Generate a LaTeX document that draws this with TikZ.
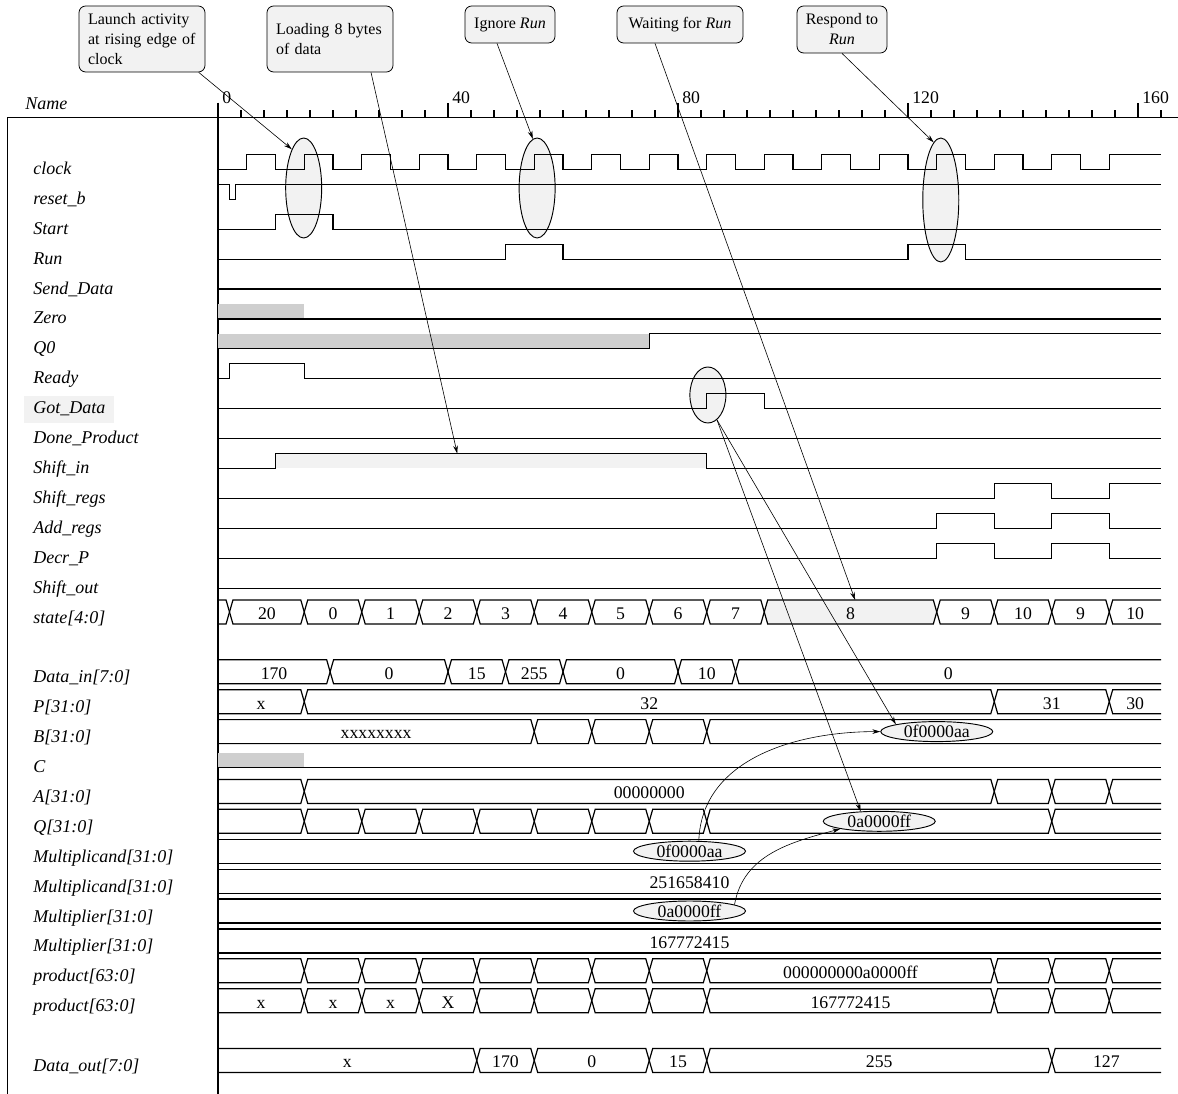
\documentclass[tikz,border=0pt]{standalone}
\usepackage{fontspec}
\setmainfont{Liberation Serif}
\usetikzlibrary{shapes.geometric,arrows.meta}

\def\tend{164}
% one bus value from #2 to #3 (crossing at both ends)
\newcommand{\busseg}[4][]{%
  \pgfmathsetmacro{\segdl}{ifthenelse(#2==0,0,0.6)}
  \draw[sig,#1] ({#2},-3) -- ({#2+\segdl},-15) -- ({#3-0.6},-15) -- ({#3},-3)
    -- ({#3-0.6},9) -- ({#2+\segdl},9) -- cycle;
  \node[val] at ({(#2+#3)/2},4.3) {#4};}
% last bus value, open to the right
\newcommand{\busend}[2]{%
  \pgfmathsetmacro{\segdl}{ifthenelse(#1==0,0,0.6)}
  \draw[sig] (\tend,-15) -- ({#1+\segdl},-15) -- ({#1},-3) -- ({#1+\segdl},9) -- (\tend,9);
  \node[val] at ({(#1+\tend)/2},4.3) {#2};}

\begin{document}
\begin{tikzpicture}[x=0.75pt, y=-0.75pt, >={Stealth[length=6pt,width=3.5pt]},
  sig/.style={line width=0.9pt},
  sigrow/.style={shift={(0,{166.5+29.9*#1})}},
  lab/.style={anchor=base west, inner sep=0, font=\fontsize{13.5}{16}\selectfont\itshape},
  val/.style={anchor=base, inner sep=0, font=\fontsize{13.3}{16}\selectfont},
  hilite/.style={ellipse, draw, fill=gray!10, line width=0.7pt, minimum width=27pt, inner sep=0},
  bubble/.style={ellipse, draw, fill=gray!10, line width=0.7pt, minimum width=84pt,
    minimum height=15pt, inner sep=0, font=\fontsize{13.3}{16}\selectfont},
  notebox/.style={draw, fill=gray!10, rounded corners=5pt, line width=0.6pt, inner sep=0,
    font=\fontsize{12}{15}\selectfont},
  hatch/.style={fill=gray!38},
  ann/.style={->, line width=0.45pt}]
  \useasboundingbox (0,0) rectangle (1178,1094);

  % Frame
  \draw[sig] (7.3,1094) -- (7.3,117.7) -- (1178,117.7);
  \draw[sig] (218,102.7) -- (218,1094);
  \node[lab] (hdr) at (25,110) {Name};

  % Signal names
  \foreach \rw/\name in {0/clock,1/reset\_b,2/Start,3/Run,4/Send\_Data,5/Zero,6/Q0,7/Ready,
      9/Done\_Product,10/Shift\_in,11/Shift\_regs,12/Add\_regs,13/Decr\_P,14/Shift\_out,
      15/state[4:0],17/Data\_in[7:0],18/P[31:0],19/B[31:0],20/C,21/A[31:0],22/Q[31:0],
      23/Multiplicand[31:0],24/Multiplicand[31:0],25/Multiplier[31:0],26/Multiplier[31:0],
      27/product[63:0],28/product[63:0],30/Data\_out[7:0]}
    \node[lab] (name\rw) at (33,{174.5+29.9*\rw}) {\name};
  \node[lab, fill=gray!10, inner xsep=6.6pt, inner ysep=2pt, text height=11.5pt,
    text depth=4.75pt] (name8) at (24.2,{174.5+29.9*8}) {Got\_Data};

  \begin{scope}[xshift=163.5pt, x=4.3125pt]
    % Time axis
    \foreach \tc in {0,4,...,164}
      \draw[sig] (\tc,117.7) -- (\tc,110);
    \foreach \tc in {0,40,...,160} {
      \draw[sig] (\tc,117.7) -- (\tc,102.7);
      \node[val, anchor=base west] (tick\tc) at ({\tc+0.7},104) {\tc};
    }

    % Highlights (behind the traces)
    \node[hilite, minimum height=75pt] (clkedge) at (14.9,188) {};
    \node[hilite, minimum height=75pt] (runedge) at (55.5,188) {};
    \node[hilite, minimum height=93pt] (respedge) at (125.7,200) {};
    \node[hilite, minimum height=42pt] (gotedge) at (85.2,395) {};

    % Control signals
    \draw[sig, sigrow=0] (0,3) \foreach \tc in {5,15,...,145} { -| (\tc,-12) -| ({\tc+5},3) }
      -| (155,-12) -- (\tend,-12);
    \draw[sig, sigrow=1] (0,-12) -| (2,3) -| (3,-12) -- (\tend,-12);
    \draw[sig, sigrow=2] (0,3) -| (10,-12) -| (20,3) -- (\tend,3);
    \draw[sig, sigrow=3] (0,3) -| (50,-12) -| (60,3) -| (120,-12) -| (130,3) -- (\tend,3);
    \draw[sig, sigrow=4] (0,3) -- (\tend,3);
    \fill[hatch, sigrow=5] (0,-12) rectangle (15,3);
    \draw[sig, sigrow=5] (0,3) -- (\tend,3);
    \fill[hatch, sigrow=6] (0,-12) rectangle (75,3);
    \draw[sig, sigrow=6] (0,3) -| (75,-12) -- (\tend,-12);
    \draw[sig, sigrow=7] (0,3) -| (2,-12) -| (15,3) -- (\tend,3);
    \draw[sig, sigrow=8] (0,3) -| (85,-12) -| (95,3) -- (\tend,3);
    \draw[sig, sigrow=9] (0,3) -- (\tend,3);
    \fill[gray!10, sigrow=10] (10,-12) rectangle (85,3);
    \draw[sig, sigrow=10] (0,3) -| (10,-12) -| (85,3) -- (\tend,3);
    \coordinate[sigrow=10] (sinpt) at (41.6,-12);
    \draw[sig, sigrow=11] (0,3) -| (135,-12) -| (145,3) -| (155,-12) -- (\tend,-12);
    \foreach \rw in {12,13}
      \draw[sig, sigrow=\rw] (0,3) -| (125,-12) -| (135,3) -| (145,-12) -| (155,3) -- (\tend,3);
    \draw[sig, sigrow=14] (0,3) -- (\tend,3);

    % state[4:0]
    \begin{scope}[sigrow=15]
      \busseg{0}{2}{}
      \busseg{2}{15}{20}
      \foreach \ta/\v in {15/0,25/1,35/2,45/3,55/4,65/5,75/6,85/7} {\busseg{\ta}{\ta+10}{\v}}
      \busseg[fill=gray!10]{95}{125}{8}
      \busseg{125}{135}{9}
      \busseg{135}{145}{10}
      \busseg{145}{155}{9}
      \busend{155}{10}
      \coordinate (st8) at (110.8,-15);
    \end{scope}

    % Data path
    \begin{scope}[sigrow=17]
      \busseg{0}{19.5}{170} \busseg{19.5}{40}{0} \busseg{40}{50}{15} \busseg{50}{60}{255}
      \busseg{60}{80}{0} \busseg{80}{90}{10} \busend{90}{0}
    \end{scope}
    \begin{scope}[sigrow=18]
      \busseg{0}{15}{x} \busseg{15}{135}{32} \busseg{135}{155}{31} \busend{155}{30}
    \end{scope}
    \begin{scope}[sigrow=19]
      \busseg{0}{55}{xxxxxxxx} \busseg{55}{65}{} \busseg{65}{75}{} \busseg{75}{85}{}
      \busend{85}{}
      \node[bubble] (bbub) at (125,-3) {0f0000aa};
    \end{scope}
    \fill[hatch, sigrow=20] (0,-12) rectangle (15,3);
    \draw[sig, sigrow=20] (0,3) -- (\tend,3);
    \begin{scope}[sigrow=21]
      \busseg{0}{15}{} \busseg{15}{135}{00000000} \busseg{135}{145}{} \busseg{145}{155}{}
      \busend{155}{}
    \end{scope}
    \begin{scope}[sigrow=22]
      \busseg{0}{15}{}
      \foreach \ta in {15,25,...,75} {\busseg{\ta}{\ta+10}{}}
      \busseg{85}{145}{} \busend{145}{}
      \node[bubble] (qbub) at (115,-3) {0a0000ff};
    \end{scope}
    \begin{scope}[sigrow=23]
      \busend{0}{}
      \node[bubble] (mcbub) at (82,-3) {0f0000aa};
    \end{scope}
    \begin{scope}[sigrow=24]
      \busend{0}{251658410}
    \end{scope}
    \begin{scope}[sigrow=25]
      \busend{0}{}
      \node[bubble] (mpbub) at (82,-3) {0a0000ff};
    \end{scope}
    \begin{scope}[sigrow=26]
      \busend{0}{167772415}
    \end{scope}
    \begin{scope}[sigrow=27]
      \busseg{0}{15}{}
      \foreach \ta in {15,25,...,75} {\busseg{\ta}{\ta+10}{}}
      \busseg{85}{135}{000000000a0000ff} \busseg{135}{145}{} \busseg{145}{155}{}
      \busend{155}{}
    \end{scope}
    \begin{scope}[sigrow=28]
      \busseg{0}{15}{x} \busseg{15}{25}{x} \busseg{25}{35}{x} \busseg{35}{45}{X}
      \foreach \ta in {45,55,...,75} {\busseg{\ta}{\ta+10}{}}
      \busseg{85}{135}{167772415} \busseg{135}{145}{} \busseg{145}{155}{}
      \busend{155}{}
    \end{scope}
    \begin{scope}[sigrow=30]
      \busseg{0}{45}{x} \busseg{45}{55}{170} \busseg{55}{75}{0} \busseg{75}{85}{15}
      \busseg{85}{145}{255} \busend{145}{127}
    \end{scope}
  \end{scope}

  % Notes
  \node[notebox, minimum width=94.5pt, minimum height=49.5pt, text width=81pt, align=left]
    (launch) at (142,39) {Launch activity\\at rising edge of\\clock};
  \node[notebox, minimum width=94.5pt, minimum height=49.5pt, text width=81pt, align=left]
    (loading) at (330,39) {Loading 8 bytes\\of data};
  \node[notebox, minimum width=67.5pt, minimum height=27.75pt, align=center]
    (ignore) at (510,24.5) {Ignore \textit{Run}};
  \node[notebox, minimum width=94.5pt, minimum height=27.75pt, align=center]
    (waiting) at (680,24.5) {Waiting for \textit{Run}};
  \node[notebox, minimum width=67.5pt, minimum height=35.25pt, align=center]
    (respond) at (842,29.5) {Respond to\\\textit{Run}};

  % Pointers
  \draw[ann] ([xshift=-5pt]launch.south east) -- (clkedge.107);
  \draw[ann] ([xshift=30.75pt]loading.south) -- (sinpt);
  \draw[ann] ([xshift=-9.75pt]ignore.south) -- (runedge.95);
  \draw[ann] ([xshift=-18.75pt]waiting.south) -- (st8);
  \draw[ann] (respond.south) -- (respedge.97);
  \draw[ann] (gotedge.-70) -- (bbub.170);
  \draw[ann] (gotedge.-70) -- (qbub.152);
  \draw[ann] (mcbub.48) to[out=88,in=180] (bbub.west);
  \draw[ann] (mpbub.8) to[out=80,in=195] (qbub.191);
\end{tikzpicture}
\end{document}
